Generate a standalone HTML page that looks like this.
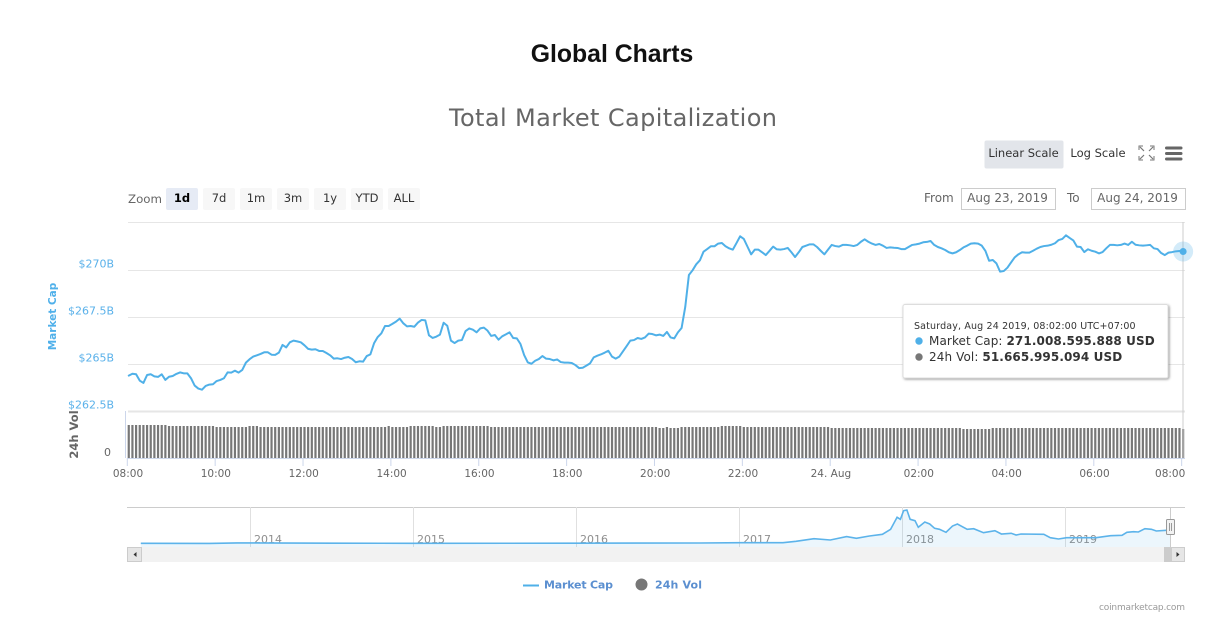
<!DOCTYPE html>
<html>
<head>
<meta charset="utf-8">
<title>Global Charts</title>
<style>
html,body{margin:0;padding:0;background:#fff;width:1218px;height:623px;overflow:hidden}
svg{display:block;font-family:"DejaVu Sans",sans-serif}
</style>
</head>
<body>
<svg id="chart" width="1218" height="623" viewBox="0 0 1218 623" xmlns="http://www.w3.org/2000/svg">
  <defs>
    <filter id="tip-shadow" x="-5%" y="-10%" width="110%" height="125%"><feDropShadow dx="1" dy="1" stdDeviation="1.2" flood-color="#000" flood-opacity="0.4"/></filter>
  </defs>
  <text x="612" y="62" text-anchor="middle" font-family="Liberation Sans, sans-serif" font-weight="700" font-size="24.8" fill="#111">Global Charts</text>
  <text x="613" y="126" text-anchor="middle" font-size="24" fill="#666" textLength="328" lengthAdjust="spacing">Total Market Capitalization</text>

  <g>
    <rect x="984.5" y="140.5" width="79" height="28" rx="2" fill="#e2e5ea"/>
    <text x="1023.5" y="157" text-anchor="middle" font-size="11.5" fill="#333">Linear Scale</text>
    <text x="1098" y="157" text-anchor="middle" font-size="11.5" fill="#333">Log Scale</text>
  </g>
  <g fill="none" stroke="#777" stroke-width="1.2">
    <path d="M1140 147l4 4M1153 147l-4 4M1140 159l4-4M1153 159l-4-4"/>
    <path d="M1139 150v-4h4M1150 146h4v4M1139 156v4h4M1150 160h4v-4" stroke-width="1"/>
  </g>
  <g stroke="#666" stroke-width="3" stroke-linecap="round">
    <line x1="1166.5" y1="148" x2="1181" y2="148"/>
    <line x1="1166.5" y1="153.5" x2="1181" y2="153.5"/>
    <line x1="1166.5" y1="159" x2="1181" y2="159"/>
  </g>

  <text x="128" y="203" font-size="11.8" fill="#666">Zoom</text>
  <g id="range-buttons" font-size="11.5" text-anchor="middle" fill="#333"></g>

  <text x="924" y="202" font-size="12" fill="#666">From</text>
  <rect x="961.5" y="188.5" width="94" height="21" fill="#fff" stroke="#ccc"/>
  <text x="1007.5" y="202" text-anchor="middle" font-size="12" fill="#666">Aug 23, 2019</text>
  <text x="1067" y="202" font-size="12" fill="#666">To</text>
  <rect x="1091.5" y="188.5" width="94" height="21" fill="#fff" stroke="#ccc"/>
  <text x="1137.5" y="202" text-anchor="middle" font-size="12" fill="#666">Aug 24, 2019</text>

  <g id="grid"></g>
  <g id="y-labels" font-size="11" fill="#5ab1ea" text-anchor="end"></g>
  <text transform="translate(56,316.5) rotate(-90)" text-anchor="middle" font-size="10.5" font-weight="700" fill="#4fb0ea">Market Cap</text>
  <text transform="translate(78,434.5) rotate(-90)" text-anchor="middle" font-size="11.5" font-weight="700" fill="#666">24h Vol</text>
  <text x="111" y="456" text-anchor="end" font-size="11" fill="#666">0</text>
  <line x1="125.5" y1="411" x2="125.5" y2="458" stroke="#ccd6eb"/>

  <g id="bars" fill="#777"></g>
  <line x1="127" y1="458.5" x2="1185" y2="458.5" stroke="#ccd6eb"/>
  <g id="x-axis" font-size="10.5" fill="#666" text-anchor="middle"></g>

  <line x1="1183" y1="222" x2="1183" y2="458" stroke="#ccc"/>
  <path id="cap-line" fill="none" stroke="#4fb0e8" stroke-width="2" stroke-linejoin="round" stroke-linecap="round"/>
  <circle id="halo" r="10" fill="#4fb0e8" fill-opacity="0.25"/>
  <circle id="marker" r="3.5" fill="#4fb0e8"/>

  <g>
    <rect x="903" y="304.5" width="265" height="73.5" rx="2" fill="#fff" stroke="#ddd" filter="url(#tip-shadow)"/>
    <text x="914" y="329" font-size="9.5" letter-spacing="0.15" fill="#333">Saturday, Aug 24 2019, 08:02:00 UTC+07:00</text>
    <circle cx="919" cy="341" r="3.7" fill="#4fb0e8"/>
    <text x="929" y="345" font-size="12" letter-spacing="0.1" fill="#333">Market Cap: <tspan font-weight="700">271.008.595.888 USD</tspan></text>
    <circle cx="919" cy="357" r="3.7" fill="#777"/>
    <text x="929" y="361" font-size="12" letter-spacing="0.1" fill="#333">24h Vol: <tspan font-weight="700">51.665.995.094 USD</tspan></text>
  </g>

  <g>
    <line x1="127" y1="507.5" x2="1185" y2="507.5" stroke="#ccc"/>
    <g id="nav-years" font-size="11" fill="#8f8f8f"></g>
    <path id="nav-area" fill="#4fb0e8" fill-opacity="0.11"/>
    <path id="nav-line" fill="none" stroke="#5cb3ea" stroke-width="1.6"/>
    <rect x="127" y="547" width="1058" height="15" fill="#f2f2f2"/>
    <rect x="1164" y="547" width="7" height="15" fill="#ccc"/>
    <rect x="127.5" y="547.5" width="14" height="14" fill="#e6e6e6" stroke="#ccc"/>
    <path d="M136.5 552v5l-3-2.5z" fill="#333"/>
    <rect x="1171.5" y="547.5" width="13" height="14" fill="#e6e6e6" stroke="#ccc"/>
    <path d="M1176.5 552v5l3-2.5z" fill="#333"/>
    <line x1="1170.5" y1="507" x2="1170.5" y2="547" stroke="#ccc"/>
    <rect x="1166.5" y="519.5" width="8" height="15" rx="1" fill="#f2f2f2" stroke="#999"/>
    <path d="M1169.5 523v8M1171.5 523v8" stroke="#999"/>
  </g>

  <g font-size="11" font-weight="700" fill="#5b8fd0">
    <line x1="523" y1="585.5" x2="539" y2="585.5" stroke="#4fb0e8" stroke-width="2"/>
    <text x="544" y="588.5" textLength="69">Market Cap</text>
    <circle cx="641.5" cy="584.5" r="6" fill="#777"/>
    <text x="655" y="588.5" textLength="47">24h Vol</text>
  </g>
  <text x="1099" y="610" font-size="9" textLength="86" fill="#999">coinmarketcap.com</text>
</svg>
<script>
// Market cap in $B, one reading every 5 minutes from 08:02 to 08:02
var marketCap = [
264.41,264.51,264.48,264.14,264.02,264.44,264.48,264.37,264.34,264.48,
264.18,264.35,264.39,264.50,264.58,264.53,264.53,264.27,263.88,263.72,
263.66,263.86,263.93,263.95,264.12,264.18,264.27,264.58,264.57,264.67,
264.57,264.71,265.10,265.28,265.42,265.49,265.56,265.65,265.65,265.52,
265.51,265.63,266.04,265.91,266.18,266.27,266.23,266.18,266.02,265.83,
265.79,265.81,265.72,265.72,265.61,265.49,265.31,265.33,265.29,265.36,
265.40,265.29,265.12,265.17,265.15,265.45,265.54,266.13,266.46,266.66,
267.05,267.05,267.16,267.28,267.44,267.19,267.03,267.05,267.01,267.23,
267.37,267.35,266.55,266.41,266.48,266.59,267.22,267.06,266.27,266.14,
266.27,266.30,266.78,266.92,266.85,266.71,266.92,266.96,266.80,266.52,
266.57,266.32,266.50,266.60,266.71,266.41,266.39,266.09,265.50,265.11,
265.04,265.20,265.29,265.45,265.31,265.29,265.22,265.27,265.13,265.10,
265.10,265.08,264.97,264.81,264.83,264.94,265.06,265.38,265.47,265.54,
265.63,265.73,265.42,265.31,265.42,265.70,265.98,266.27,266.30,266.41,
266.36,266.44,266.64,266.62,266.55,266.59,266.52,266.73,266.44,266.39,
266.71,266.94,268.06,269.76,270.01,270.33,270.54,271.00,271.14,271.29,
271.29,271.43,271.46,271.29,271.18,271.11,271.46,271.82,271.68,271.27,
270.86,271.11,271.11,270.97,270.82,271.04,271.27,271.13,271.11,271.14,
271.20,270.97,270.72,270.97,271.25,271.32,271.39,271.39,271.25,271.05,
270.86,271.11,271.36,271.30,271.27,271.36,271.36,271.34,271.30,271.36,
271.53,271.66,271.53,271.43,271.36,271.41,271.32,271.20,271.23,271.21,
271.20,271.14,271.14,271.25,271.36,271.39,271.43,271.50,271.52,271.57,
271.36,271.25,271.18,271.09,270.97,270.91,270.97,271.09,271.23,271.32,
271.43,271.45,271.43,271.32,271.04,270.52,270.56,270.38,269.94,269.97,
270.15,270.43,270.70,270.86,270.97,270.95,270.95,271.05,271.16,271.25,
271.30,271.32,271.37,271.45,271.62,271.68,271.87,271.73,271.60,271.27,
271.25,270.98,271.13,271.05,271.00,270.91,270.98,271.18,271.36,271.36,
271.34,271.36,271.43,271.36,271.53,271.37,271.34,271.32,271.34,271.36,
271.18,271.14,270.93,270.82,270.95,270.98,271.02,271.04,271.01
];
// 24h volume in $B, same 5 minute readings
var volume = [
57.9,57.9,57.9,57.9,57.9,57.9,57.9,57.9,57.9,57.9,57.9,
56.1,56.1,56.1,56.1,56.1,56.1,56.1,56.1,56.1,56.1,56.1,56.1,56.1,
54.4,54.4,54.4,54.4,54.4,54.4,54.4,54.4,54.4,
56.1,56.1,56.1,
54.4,54.4,54.4,54.4,54.4,54.4,54.4,54.4,54.4,54.4,54.4,54.4,54.4,54.4,54.4,54.4,54.4,54.4,
54.4,54.4,54.4,54.4,54.4,54.4,54.4,54.4,54.4,54.4,54.4,54.4,54.4,54.4,54.4,54.4,54.4,
56.1,
54.4,54.4,54.4,54.4,54.4,
56.1,56.1,56.1,56.1,56.1,56.1,56.1,
54.4,54.4,
56.1,56.1,56.1,56.1,56.1,56.1,56.1,56.1,56.1,56.1,56.1,56.1,56.1,
54.4,54.4,54.4,54.4,54.4,54.4,54.4,54.4,54.4,54.4,54.4,54.4,54.4,54.4,54.4,54.4,54.4,54.4,54.4,54.4,54.4,54.4,54.4,
54.4,54.4,54.4,54.4,54.4,54.4,54.4,54.4,54.4,54.4,54.4,54.4,54.4,54.4,54.4,54.4,54.4,54.4,54.4,54.4,54.4,54.4,54.4,
52.6,52.6,
54.4,
52.6,52.6,52.6,
54.4,54.4,54.4,54.4,54.4,54.4,54.4,54.4,54.4,54.4,54.4,
56.1,56.1,56.1,56.1,56.1,56.1,
54.4,54.4,54.4,54.4,54.4,54.4,54.4,54.4,54.4,54.4,54.4,54.4,54.4,54.4,54.4,54.4,54.4,54.4,54.4,54.4,54.4,54.4,54.4,54.4,
52.6,52.6,52.6,52.6,52.6,52.6,52.6,52.6,52.6,52.6,52.6,52.6,52.6,52.6,52.6,52.6,52.6,52.6,
52.6,52.6,52.6,52.6,52.6,52.6,52.6,52.6,52.6,52.6,52.6,52.6,52.6,52.6,52.6,52.6,52.6,52.6,
50.9,50.9,50.9,50.9,50.9,50.9,50.9,50.9,
52.6,52.6,52.6,52.6,52.6,52.6,52.6,52.6,52.6,52.6,52.6,52.6,52.6,52.6,52.6,52.6,52.6,52.6,52.6,52.6,52.6,52.6,52.6,52.6,52.6,52.6,
52.6,52.6,52.6,52.6,52.6,52.6,52.6,52.6,52.6,52.6,52.6,52.6,52.6,52.6,52.6,52.6,52.6,52.6,52.6,52.6,52.6,52.6,52.6,52.6,52.6,52.6,
51.67
];
var yTickValues = [270, 267.5, 265, 262.5];
var yTickLabels = ["$270B", "$267.5B", "$265B", "$262.5B"];
var xTickHours = [0, 2, 4, 6, 8, 10, 12, 14, 16, 18, 20, 22, 24];
var xTickLabels = ["08:00","10:00","12:00","14:00","16:00","18:00","20:00","22:00","24. Aug","02:00","04:00","06:00","08:00"];
var rangeLabels = ["1d","7d","1m","3m","1y","YTD","ALL"];
var selectedRange = "1d";
// Navigator: decimal year and market cap in $B
var navYears = [2013.33,2013.75,2013.92,2014.5,2015,2016,2016.76,2017.01,2017.27,2017.35,2017.46,2017.56,2017.66,2017.72,2017.80,2017.88,2017.93,2017.97,2017.99,2018.01,2018.03,2018.05,2018.08,2018.10,2018.14,2018.17,2018.20,2018.23,2018.27,2018.31,2018.34,2018.40,2018.44,2018.50,2018.57,2018.61,2018.67,2018.70,2018.73,2018.87,2018.91,2018.96,2019.01,2019.19,2019.28,2019.35,2019.38,2019.42,2019.45,2019.49,2019.53,2019.56,2019.62,2019.65];
var navValues = [5,3,15,8,6,8,12,20,20,55,120,87,170,128,186,228,352,650,600,813,830,600,566,402,533,484,377,352,278,434,484,352,367,268,317,236,253,211,236,228,144,112,144,144,193,203,278,293,285,367,352,310,327,327];
var navTickYears = [2014,2015,2016,2017,2018,2019];

var NS = "http://www.w3.org/2000/svg";
function mk(tag, parent) {
  var e = document.createElementNS(NS, tag);
  parent.appendChild(e);
  return e;
}
function xByMinute(m) { return 127.3 + m * 0.7322; }
function xByIndex(i) { return xByMinute(2 + i * 5); }
function yCap(v) { return 270.5 + (270 - v) * 18.8; }
function yVol(v) { return Math.round(458 - v * 0.57); }
function xNav(year) { return 902 + (year - 2018) * 163; }
function yNav(v) { return 543.5 - v / 24.8; }

// grid + y labels
var grid = document.getElementById("grid");
var topGrid = mk("line", grid);


topGrid.setAttribute("x1", 128); topGrid.setAttribute("x2", 1185);
topGrid.setAttribute("y1", 222.5); topGrid.setAttribute("y2", 222.5);
topGrid.setAttribute("stroke", "#e6e6e6");
var yLabels = document.getElementById("y-labels");
yTickValues.forEach(function (v, k) {
  var y = Math.floor(yCap(v)) + 0.5;
  var l = mk("line", grid);
  
  
  l.setAttribute("x1", 128); l.setAttribute("x2", 1185);
  l.setAttribute("y1", y); l.setAttribute("y2", y);
  l.setAttribute("stroke", "#e6e6e6");
  if (k === yTickValues.length - 1) l.setAttribute("stroke-width", 2);
  var t = mk("text", yLabels);
  
  
  t.setAttribute("x", 114);
  t.setAttribute("y", yCap(v) - 3);
  t.textContent = yTickLabels[k];
});

// volume bars
var bars = document.getElementById("bars");
volume.forEach(function (v, i) {
  var r = mk("rect", bars);
  
  
  var top = yVol(v);
  r.setAttribute("x", (xByIndex(i) - 1.1).toFixed(2));
  r.setAttribute("y", top);
  r.setAttribute("width", 2.2);
  r.setAttribute("height", 458 - top);
});

// market cap line
var d = marketCap.map(function (v, i) {
  return (i ? "L" : "M") + xByIndex(i).toFixed(2) + " " + yCap(v).toFixed(2);
}).join("");
document.getElementById("cap-line").setAttribute("d", d);
var lastI = marketCap.length - 1;
["halo", "marker"].forEach(function (id) {
  var c = document.getElementById(id);
  c.setAttribute("cx", xByIndex(lastI));
  c.setAttribute("cy", yCap(marketCap[lastI]));
});

// x axis
var xAxis = document.getElementById("x-axis");
xTickHours.forEach(function (h, k) {
  var x = xByMinute(h * 60);
  var tick = mk("line", xAxis);
  
  
  tick.setAttribute("x1", x); tick.setAttribute("x2", x);
  tick.setAttribute("y1", 458); tick.setAttribute("y2", 466);
  tick.setAttribute("stroke", "#ccd6eb");
  var t = mk("text", xAxis);
  
  
  t.setAttribute("x", k === xTickHours.length - 1 ? x - 11.5 : x + 0.7);
  t.setAttribute("y", 477);
  t.textContent = xTickLabels[k];
});

// range buttons
var rg = document.getElementById("range-buttons");
rangeLabels.forEach(function (lab, k) {
  var bx = 166 + k * 37;
  var r = mk("rect", rg);
  
  
  r.setAttribute("x", bx); r.setAttribute("y", 188);
  r.setAttribute("width", 32); r.setAttribute("height", 22);
  r.setAttribute("rx", 2);
  r.setAttribute("fill", lab === selectedRange ? "#e6ebf5" : "#f7f7f7");
  var t = mk("text", rg);
  
  
  t.setAttribute("x", bx + 16); t.setAttribute("y", 202);
  if (lab === selectedRange) { t.setAttribute("font-weight", "700"); t.setAttribute("fill", "#000"); }
  t.textContent = lab;
});

// navigator
var ny = document.getElementById("nav-years");
navTickYears.forEach(function (yr) {
  var x = Math.round(xNav(yr)) + 0.5;
  var l = mk("line", ny);
  
  
  l.setAttribute("x1", x); l.setAttribute("x2", x);
  l.setAttribute("y1", 507); l.setAttribute("y2", 547);
  l.setAttribute("stroke", "#e0e0e0");
  var t = mk("text", ny);
  
  
  t.setAttribute("x", x + 3.5); t.setAttribute("y", 543);
  t.textContent = yr;
});
var navD = navValues.map(function (v, i) {
  return (i ? "L" : "M") + xNav(navYears[i]).toFixed(1) + " " + yNav(v).toFixed(1);
}).join("");
document.getElementById("nav-line").setAttribute("d", navD);
document.getElementById("nav-area").setAttribute("d", navD + "L" + xNav(navYears[navYears.length - 1]).toFixed(1) + " 547L" + xNav(navYears[0]).toFixed(1) + " 547Z");
</script>
</body>
</html>
